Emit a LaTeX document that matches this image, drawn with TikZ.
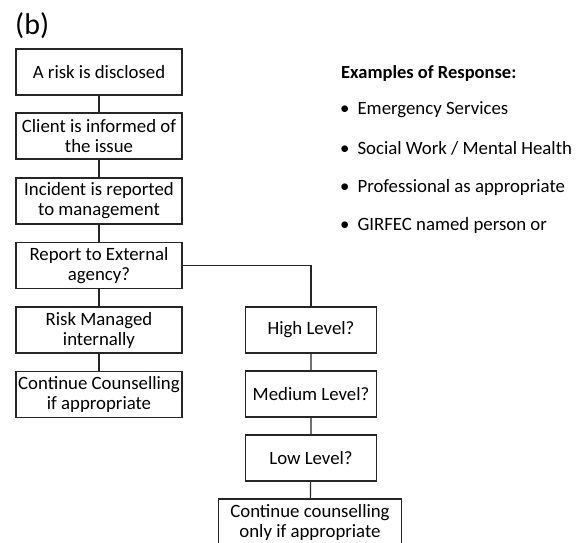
\documentclass[tikz,border=0pt]{standalone}
\usepackage{fontspec}
\setmainfont{Carlito}

\begin{document}
\begin{tikzpicture}[x=1pt,y=-1pt,
	box/.style={draw=black!85,line width=1.2pt,minimum width=166pt,minimum height=46pt,
		inner sep=0pt,align=center,font=\fontsize{18.8}{20}\selectfont},
	link/.style={draw=black!85,line width=1.2pt},
	item/.style={anchor=west,inner sep=0pt,font=\fontsize{18.8}{20}\selectfont}]
	\useasboundingbox (0,0) rectangle (586,543);
	\clip (0,0) rectangle (586,543);
	\node[anchor=west,inner sep=0pt,font=\fontsize{30}{32}\selectfont] (tag) at (15,26) {(b)};
	% left column
	\node[box] (disclosed) at (99,72) {A risk is disclosed};
	\node[box] (informed) at (99,136) {Client is informed of\\the issue};
	\node[box] (reported) at (99,201) {Incident is reported\\to management};
	\node[box] (external) at (99,265.5) {Report to External\\agency?};
	\node[box] (internal) at (99,330) {Risk Managed\\internally};
	\node[box] (continue) at (99,394.5) {Continue Counselling\\if appropriate};
	% right column
	\node[box,minimum width=131pt] (high) at (311,330) {High Level?};
	\node[box,minimum width=131pt] (medium) at (311,394) {Medium Level?};
	\node[box,minimum width=131pt] (low) at (311,458) {Low Level?};
	\node[box,minimum width=183pt] (final) at (310,522) {Continue counselling\\only if appropriate};
	\draw[link] (disclosed) -- (informed) -- (reported) -- (external) -- (internal) -- (continue);
	\draw[link] (external.east) -| (high.north);
	\draw[link] (high) -- (medium) -- (low) -- (final);
	% examples
	\node[item,font=\fontsize{18.5}{20}\selectfont\bfseries] (examples) at (341,73) {Examples of Response:};
	\node[item] (emergency) at (340,110) {\textbullet\hspace{8pt}Emergency Services};
	\node[item] (social) at (340,148) {\textbullet\hspace{8pt}Social Work / Mental Health};
	\node[item] (professional) at (340,187) {\textbullet\hspace{8pt}Professional as appropriate};
	\node[item] (girfec) at (340,225) {\textbullet\hspace{8pt}GIRFEC named person or};
\end{tikzpicture}
\end{document}
